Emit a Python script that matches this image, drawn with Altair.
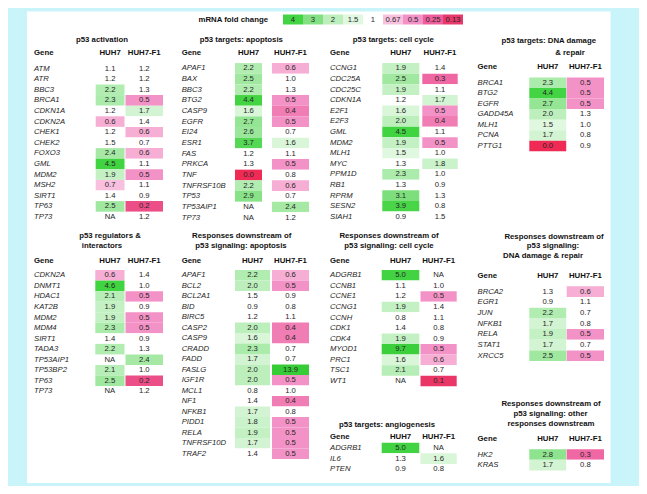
import altair as alt
import pandas as pd

NA = None

# ---------------- data ----------------
act_genes = ["ATM", "ATR", "BBC3", "BRCA1", "CDKN1A", "CDKN2A", "CHEK1", "CHEK2", "FOXO3", "GML", "MDM2", "MSH2", "SIRT1", "TP63", "TP73"]
act_huh7 = [1.1, 1.2, 2.2, 2.3, 1.2, 0.6, 1.2, 1.48, 2.4, 4.5, 1.9, 0.66, 1.4, 2.5, NA]
act_f1 = [1.2, 1.2, 1.3, 0.5, 1.7, 1.4, 0.6, 0.7, 0.6, 1.1, 0.5, 1.1, 0.9, 0.2, 1.2]

apo_genes = ["APAF1", "BAX", "BBC3", "BTG2", "CASP9", "EGFR", "EI24", "ESR1", "FAS", "PRKCA", "TNF", "TNFRSF10B", "TP53", "TP53AIP1", "TP73"]
apo_huh7 = [2.2, 2.5, 2.2, 4.4, 1.6, 2.7, 2.6, 3.7, 1.2, 1.3, 0.0, 2.2, 2.9, NA, NA]
apo_f1 = [0.6, 1.0, 1.3, 0.5, 0.4, 0.5, 0.7, 1.6, 1.1, 0.5, 0.8, 0.6, 0.7, 2.4, 1.2]

cc_genes = ["CCNG1", "CDC25A", "CDC25C", "CDKN1A", "E2F1", "E2F3", "GML", "MDM2", "MLH1", "MYC", "PPM1D", "RB1", "RPRM", "SESN2", "SIAH1"]
cc_huh7 = [1.9, 2.5, 1.9, 1.2, 1.6, 2.0, 4.5, 1.9, 1.5, 1.3, 2.3, 1.3, 3.1, 3.9, 0.9]
cc_f1 = [1.4, 0.3, 1.1, 1.7, 0.5, 0.4, 1.1, 0.5, 1.0, 1.8, 1.0, 0.9, 1.3, 0.8, 1.48]

dna_genes = ["BRCA1", "BTG2", "EGFR", "GADD45A", "MLH1", "PCNA", "PTTG1"]
dna_huh7 = [2.3, 4.4, 2.7, 2.0, 1.5, 1.7, 0.0]
dna_f1 = [0.5, 0.5, 0.5, 1.3, 1.0, 0.8, 0.9]

reg_genes = ["CDKN2A", "DNMT1", "HDAC1", "KAT2B", "MDM2", "MDM4", "SIRT1", "TADA3", "TP53AIP1", "TP53BP2", "TP63", "TP73"]
reg_huh7 = [0.6, 4.6, 2.1, 1.9, 1.9, 2.3, 1.4, 2.2, NA, 2.1, 2.5, NA]
reg_f1 = [1.4, 1.0, 0.5, 0.9, 0.5, 0.5, 0.9, 1.3, 2.4, 1.0, 0.2, 1.2]

dapo_genes = ["APAF1", "BCL2", "BCL2A1", "BID", "BIRC5", "CASP2", "CASP9", "CRADD", "FADD", "FASLG", "IGF1R", "MCL1", "NF1", "NFKB1", "PIDD1", "RELA", "TNFRSF10D", "TRAF2"]
dapo_huh7 = [2.2, 2.0, 1.48, 0.9, 1.2, 2.0, 1.6, 2.3, 1.7, 2.0, 2.0, 0.8, 1.4, 1.7, 1.8, 1.9, 1.7, 1.4]
dapo_f1 = [0.6, 0.5, 0.9, 0.8, 1.1, 0.4, 0.4, 0.7, 0.7, 13.9, 0.5, 1.0, 0.4, 0.8, 0.5, 0.5, 0.5, 0.5]

dcc_genes = ["ADGRB1", "CCNB1", "CCNE1", "CCNG1", "CCNH", "CDK1", "CDK4", "MYOD1", "PRC1", "TSC1", "WT1"]
dcc_huh7 = [5.0, 1.1, 1.2, 1.9, 0.8, 1.4, 1.9, 9.7, 1.6, 2.1, NA]
dcc_f1 = [NA, 1.0, 0.5, 1.4, 1.1, 0.8, 0.9, 0.5, 0.6, 0.7, 0.1]

ang_genes = ["ADGRB1", "IL6", "PTEN"]
ang_huh7 = [5.0, 1.3, 0.9]
ang_f1 = [NA, 1.6, 0.8]

ddna_genes = ["BRCA2", "EGR1", "JUN", "NFKB1", "RELA", "STAT1", "XRCC5"]
ddna_huh7 = [1.3, 0.9, 2.2, 1.7, 1.9, 1.7, 2.5]
ddna_f1 = [0.6, 1.1, 0.7, 0.8, 0.5, 0.7, 0.5]

oth_genes = ["HK2", "KRAS"]
oth_huh7 = [2.8, 1.7]
oth_f1 = [0.3, 0.8]

samples = ["HUH7", "HUH7-F1"]
legend_values = [4, 3, 2, 1.5, 1, 0.67, 0.5, 0.25, 0.13]
legend_labels = ["4", "3", "2", "1.5", "1", "0.67", "0.5", "0.25", "0.13"]
legend_title = "mRNA fold change"

# colour scale (fold change -> colour)
color_domain = [0.0, 0.13, 0.25, 0.5, 0.67, 0.68, 1.49, 1.5, 2.0, 3.0, 4.0, 14.0]
color_range = ["#ef2a55", "#e8386c", "#ee5d9c", "#f392c6", "#f8c2df", "#ffffff",
               "#ffffff", "#e0f8e0", "#bdefbd", "#82e082", "#42d442", "#36cc36"]

# ---------------- layout (page pixel units) ----------------
panels = [
    dict(genes=act_genes, h=act_huh7, f=act_f1, gx=34, c1=(95.7, 124.5), c2=(125.5, 163),
         titles=[("p53 activation", 102)], ty=[39.5], hy=53, r0=68.6, st=10.6),
    dict(genes=apo_genes, h=apo_huh7, f=apo_f1, gx=181.7, c1=(235, 262), c2=(272, 309),
         titles=[("p53 targets: apoptosis", 241.3)], ty=[40.3], hy=53.3, r0=68.4, st=10.66),
    dict(genes=cc_genes, h=cc_huh7, f=cc_f1, gx=330, c1=(382.3, 419.3), c2=(422.3, 457.7),
         titles=[("p53 targets: cell cycle", 393.3)], ty=[40.3], hy=53.2, r0=68.4, st=10.6),
    dict(genes=dna_genes, h=dna_huh7, f=dna_f1, gx=477.5, c1=(529.3, 566.3), c2=(566.7, 604),
         titles=[("p53 targets: DNA damage", 548.7), ("& repair", 570)], ty=[41, 53.3],
         hy=66.7, r0=82.7, st=10.55),
    dict(genes=reg_genes, h=reg_huh7, f=reg_f1, gx=34, c1=(95.3, 124.5), c2=(125.5, 163),
         titles=[("p53 regulators &", 110), ("interactors", 102)], ty=[236, 246],
         hy=261, r0=275.3, st=10.55),
    dict(genes=dapo_genes, h=dapo_huh7, f=dapo_f1, gx=181.7, c1=(235, 270), c2=(272, 309),
         titles=[("Responses downstream of", 241.7), ("p53 signaling: apoptosis", 241)],
         ty=[236, 245.8], hy=261, r0=275.3, st=10.5),
    dict(genes=dcc_genes, h=dcc_huh7, f=dcc_f1, gx=330, c1=(381.7, 419.3), c2=(420.5, 456.7),
         titles=[("Responses downstream of", 389), ("p53 signaling: cell cycle", 389)],
         ty=[236, 245.8], hy=261, r0=275.3, st=10.57),
    dict(genes=ang_genes, h=ang_huh7, f=ang_f1, gx=330, c1=(381.7, 419.3), c2=(420.5, 456.7),
         titles=[("p53 targets: angiogenesis", 387)], ty=[425], hy=437, r0=448, st=10.6),
    dict(genes=ddna_genes, h=ddna_huh7, f=ddna_f1, gx=477.5, c1=(529.3, 566.3), c2=(566.7, 604),
         titles=[("Responses downstream of", 554), ("p53 signaling:", 553), ("DNA damage & repair", 543)],
         ty=[236.7, 246, 255.5], hy=276.3, r0=291.7, st=10.67),
    dict(genes=oth_genes, h=oth_huh7, f=oth_f1, gx=477.5, c1=(529.3, 566.3), c2=(566.7, 604),
         titles=[("Responses downstream of", 551), ("p53 signaling: other", 550.5), ("responses downstream", 551)],
         ty=[404, 414.3, 424], hy=439, r0=454.5, st=10.6),
]

cells, genes, headers, titles = [], [], [], []
for p in panels:
    for (t, cx), ty in zip(p["titles"], p["ty"]):
        titles.append(dict(x=cx, y=ty, text=t))
    headers.append(dict(x=p["gx"], y=p["hy"], text="Gene", align="left"))
    for s, (l, r) in zip(samples, (p["c1"], p["c2"])):
        headers.append(dict(x=(l + r) / 2, y=p["hy"], text=s, align="center"))
    for i, g in enumerate(p["genes"]):
        yc = p["r0"] + i * p["st"]
        genes.append(dict(x=p["gx"], y=yc, gene=g))
        for vals, (l, r) in zip((p["h"], p["f"]), (p["c1"], p["c2"])):
            v = vals[i]
            cells.append(dict(x=l, x2=r, y=yc - p["st"] / 2, y2=yc + p["st"] / 2,
                              xc=(l + r) / 2, yc=yc, value=v,
                              label="NA" if v is None else f"{v:.1f}"))

cells_df = pd.DataFrame(cells)
genes_df = pd.DataFrame(genes)
headers_df = pd.DataFrame(headers)
titles_df = pd.DataFrame(titles)

leg_x0, leg_w, leg_y = 283, 20, 19.5
legend_df = pd.DataFrame(dict(
    value=legend_values, label=legend_labels,
    x=[leg_x0 + i * leg_w for i in range(len(legend_values))],
    x2=[leg_x0 + (i + 1) * leg_w for i in range(len(legend_values))],
    xc=[leg_x0 + (i + 0.5) * leg_w for i in range(len(legend_values))],
    y=[leg_y - 5] * len(legend_values), y2=[leg_y + 5] * len(legend_values),
    yc=[leg_y] * len(legend_values)))
legtitle_df = pd.DataFrame([dict(x=leg_x0 - 15, y=leg_y, text=legend_title)])
frame_df = pd.DataFrame([dict(x=27, x2=610.5, y=11.5, y2=483)])

W, H = 631, 478
xs = alt.Scale(domain=[8, 8 + W], nice=False, zero=False)
ys = alt.Scale(domain=[8, 8 + H], nice=False, zero=False, reverse=True)
cs = alt.Scale(domain=color_domain, range=color_range, interpolate="rgb", clamp=True)
FONT = "Liberation Sans"
TXT = "#262626"

X = lambda f: alt.X(f, type="quantitative", scale=xs, axis=None)
Y = lambda f: alt.Y(f, type="quantitative", scale=ys, axis=None)

frame = alt.Chart(frame_df).mark_rect(color="white").encode(
    x=X("x"), x2="x2", y=Y("y"), y2="y2")

cell_rects = alt.Chart(cells_df).transform_filter("datum.value != null").mark_rect().encode(
    x=X("x"), x2="x2", y=Y("y"), y2="y2",
    color=alt.Color("value:Q", scale=cs, legend=None))

cell_text = alt.Chart(cells_df).mark_text(font=FONT, fontSize=7.7, color=TXT,
                                          align="center", baseline="middle").encode(
    x=X("xc"), y=Y("yc"), text="label:N")

gene_text = alt.Chart(genes_df).mark_text(font=FONT, fontSize=7.7, fontStyle="italic",
                                          color=TXT, align="left", baseline="middle").encode(
    x=X("x"), y=Y("y"), text="gene:N")

hdr_left = alt.Chart(headers_df).transform_filter("datum.align == 'left'").mark_text(
    font=FONT, fontSize=7.8, fontWeight="bold", color="#111", align="left", baseline="middle").encode(
    x=X("x"), y=Y("y"), text="text:N")
hdr_center = alt.Chart(headers_df).transform_filter("datum.align == 'center'").mark_text(
    font=FONT, fontSize=7.8, fontWeight="bold", color="#111", align="center", baseline="middle").encode(
    x=X("x"), y=Y("y"), text="text:N")

title_text = alt.Chart(titles_df).mark_text(font=FONT, fontSize=7.8, fontWeight="bold",
                                            color="#111", align="center", baseline="middle").encode(
    x=X("x"), y=Y("y"), text="text:N")

leg_rects = alt.Chart(legend_df).mark_rect().encode(
    x=X("x"), x2="x2", y=Y("y"), y2="y2",
    color=alt.Color("value:Q", scale=cs, legend=None))
leg_text = alt.Chart(legend_df).mark_text(font=FONT, fontSize=7.7, color=TXT,
                                          align="center", baseline="middle").encode(
    x=X("xc"), y=Y("yc"), text="label:N")
leg_title = alt.Chart(legtitle_df).mark_text(font=FONT, fontSize=7.8, fontWeight="bold",
                                             color="#111", align="right", baseline="middle").encode(
    x=X("x"), y=Y("y"), text="text:N")

chart = alt.layer(frame, cell_rects, cell_text, gene_text, hdr_left, hdr_center,
                  title_text, leg_rects, leg_text, leg_title).properties(
    width=W, height=H, padding=0, background="#c8f4fa",
    autosize=alt.AutoSizeParams(type="none")
).configure_view(stroke=None)

chart.save("out.html", embed_options={"renderer": "svg", "actions": False})
